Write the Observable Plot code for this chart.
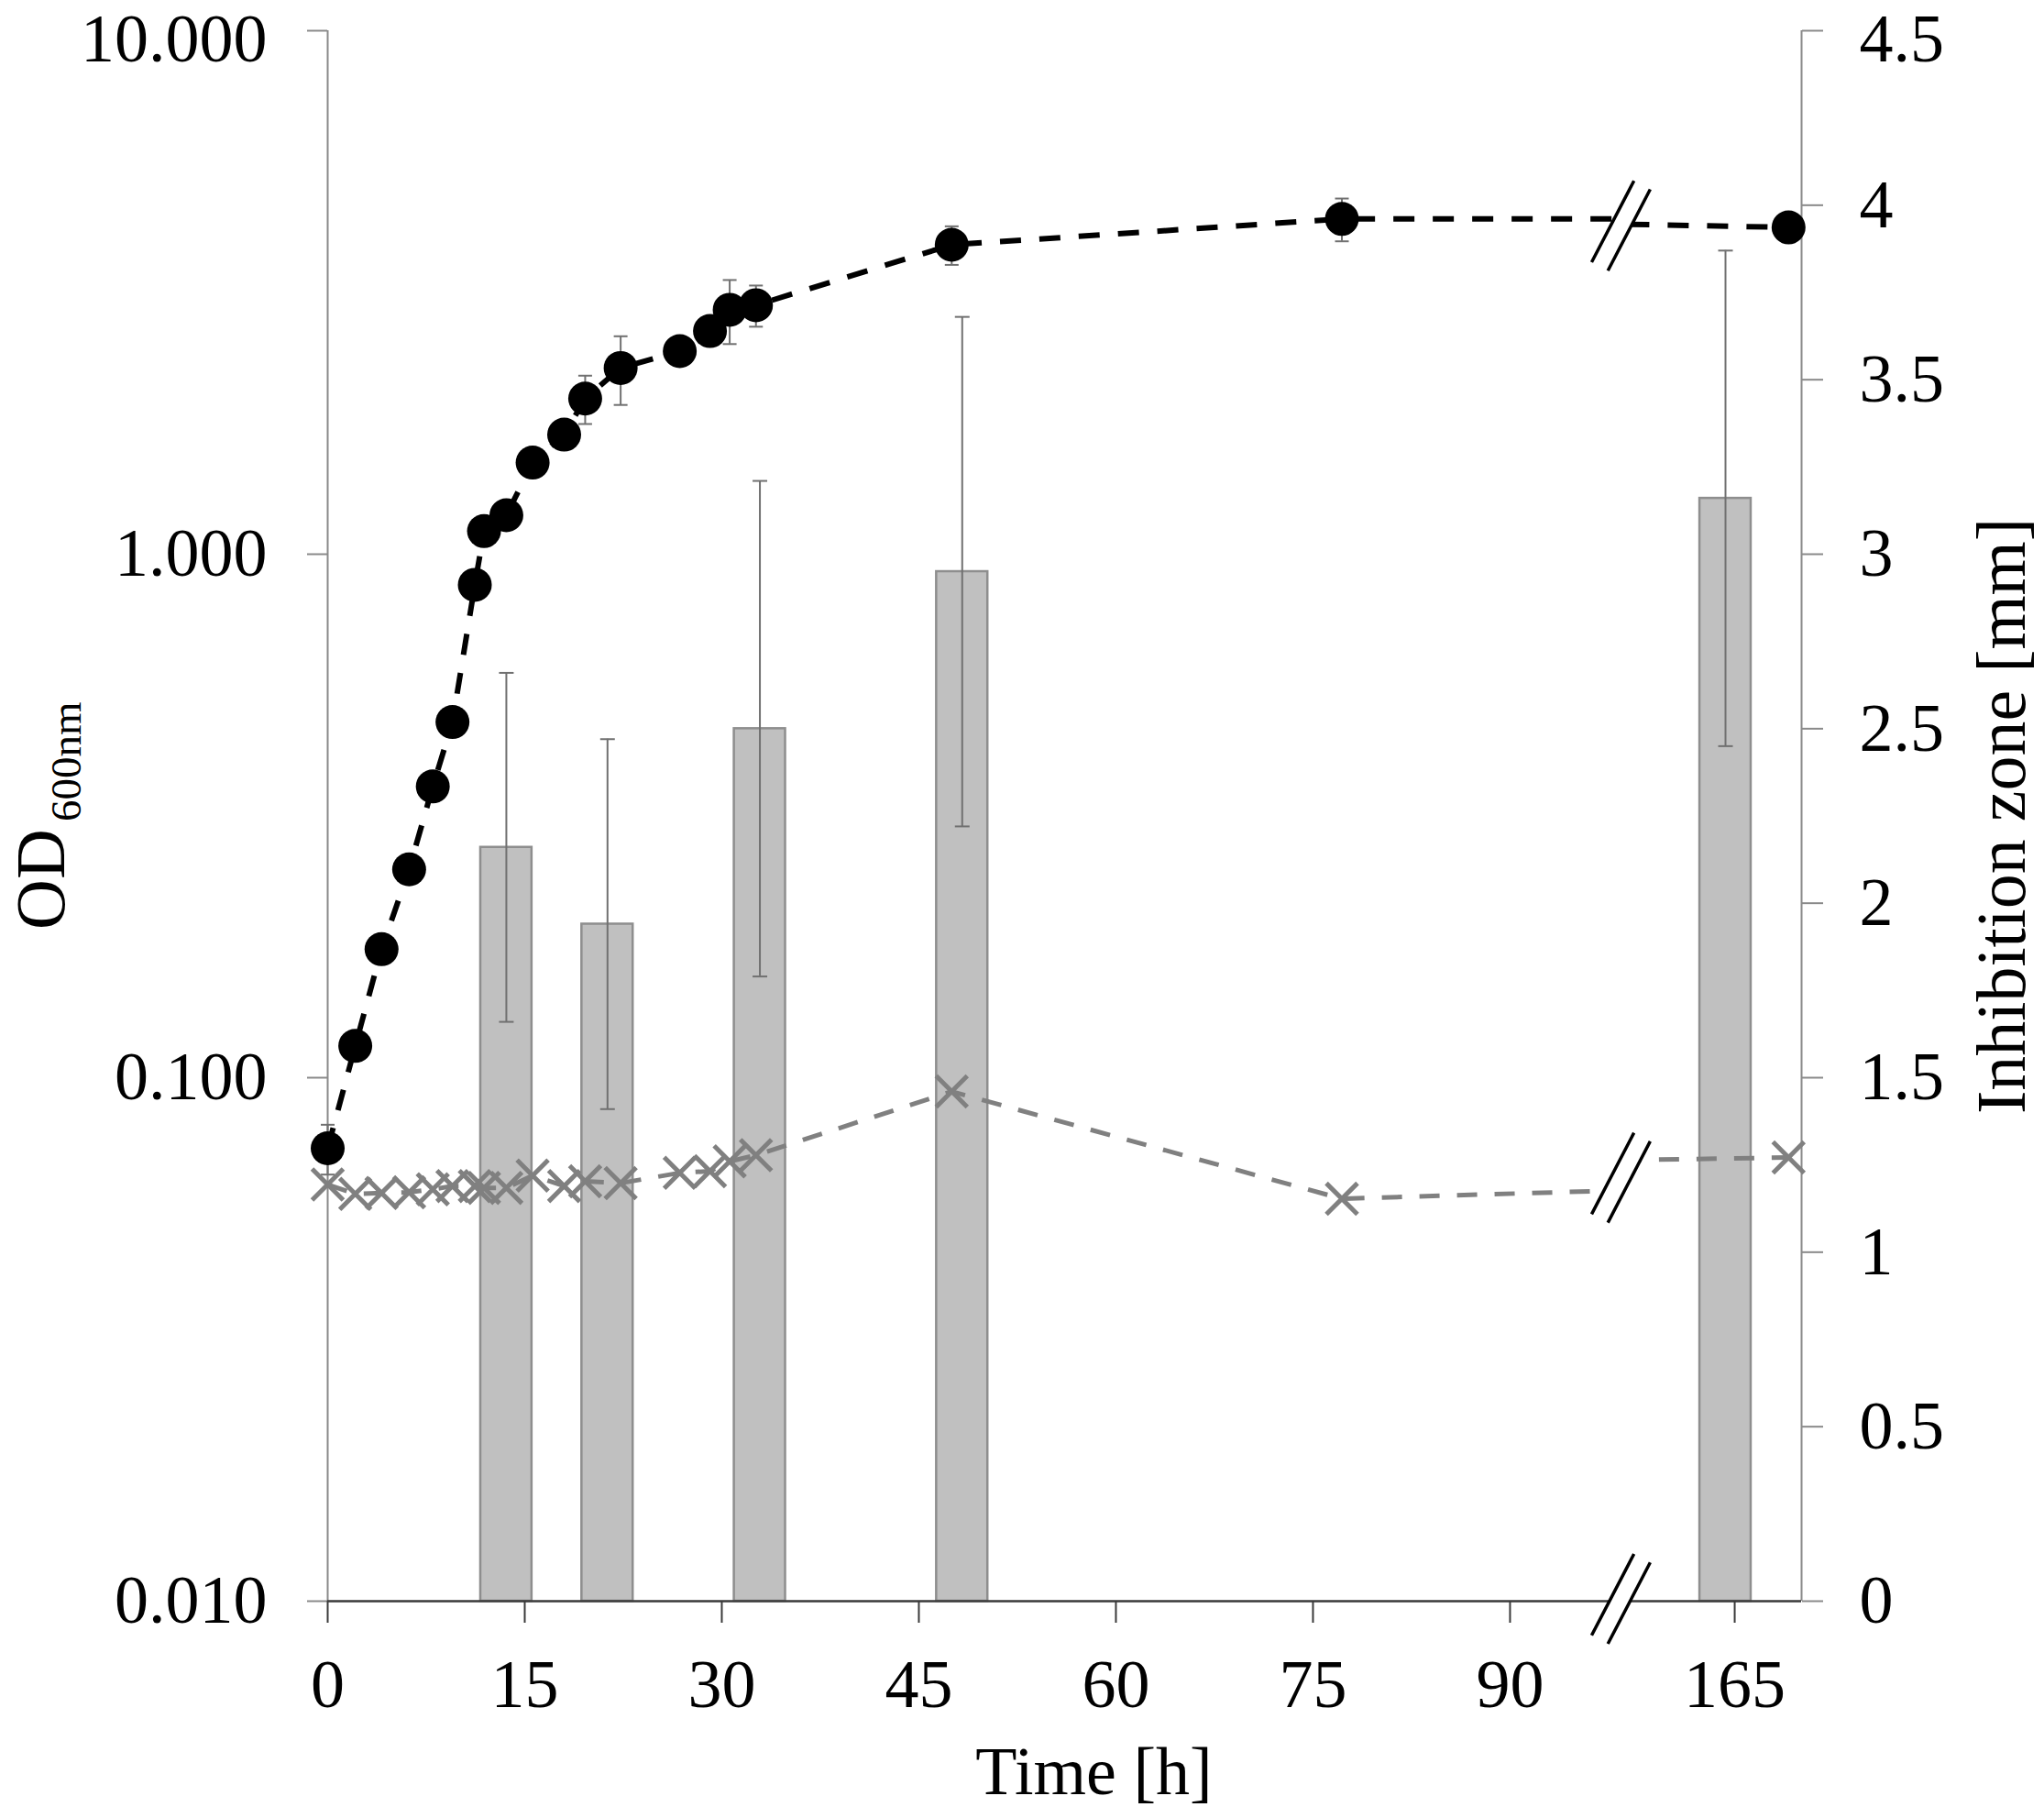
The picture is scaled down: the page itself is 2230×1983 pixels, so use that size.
<!DOCTYPE html>
<html>
<head>
<meta charset="utf-8">
<script src="https://cdn.jsdelivr.net/npm/d3@7"></script>
<script src="https://cdn.jsdelivr.net/npm/@observablehq/plot@0.6"></script>
<style>
  html, body { margin: 0; padding: 0; background: #fff; overflow: hidden; }
</style>
</head>
<body>
<div id="chart"></div>
<script>
// ---- data ----
const odHours  = [0, 2.1, 4.1, 6.2, 8.0, 9.5, 11.2, 11.9, 13.6, 15.6, 18.0, 19.6, 22.3, 26.8, 29.1, 30.6, 32.6, 47.5, 77.2, 169.1];
const odValues = [0.0733, 0.115, 0.176, 0.250, 0.360, 0.478, 0.874, 1.107, 1.187, 1.496, 1.692, 1.983, 2.268, 2.443, 2.669, 2.93, 2.99, 3.90, 4.37, 4.21];
const odErrors = [0.008, 0, 0, 0, 0, 0, 0, 0, 0, 0, 0, 0.21, 0.34, 0, 0, 0.41, 0.27, 0.33, 0.41, 0];

const crossValues = [0.0625, 0.0600, 0.0602, 0.0604, 0.0612, 0.0621, 0.0621, 0.0616, 0.0616, 0.0650, 0.0621, 0.0634, 0.0629, 0.0658, 0.0663, 0.0692, 0.0711, 0.0941, 0.0587, 0.0704];

const barHours  = [13.6, 21.3, 32.9, 48.3, 164.3];
const barMM     = [2.16, 1.94, 2.50, 2.95, 3.16];
const barErrMM  = [0.50, 0.53, 0.71, 0.73, 0.71];

// level of each dashed line where it meets the axis break (left side, right side)
const odBreakEdge    = [4.37, 4.27];
const crossBreakEdge = [0.0609, 0.0696];

const xTickHours  = [0, 15, 30, 45, 60, 75, 90, 165];
const xTickLabels = ["0", "15", "30", "45", "60", "75", "90", "165"];
const leftTicks       = [0.01, 0.1, 1, 10];
const leftTickLabels  = ["0.010", "0.100", "1.000", "10.000"];
const rightTicks      = [0, 0.5, 1, 1.5, 2, 2.5, 3, 3.5, 4, 4.5];
const rightTickLabels = ["0", "0.5", "1", "1.5", "2", "2.5", "3", "3.5", "4", "4.5"];

// ---- broken time axis ----
const BREAK_AFTER = 100;      // hours beyond this are shifted left
const BREAK_SHIFT = 57.9;     // hours removed by the break
const BREAK_POS   = 98.44;    // axis position of the "//" marks
const X_MAX       = 112.19;
const pos = h => (h > BREAK_AFTER ? h - BREAK_SHIFT : h);
const breakMarkY = [4.24, 0.0644, 0.0101];

// right axis (mm, linear 0..4.5) shares the frame with the log OD axis (0.01..10)
const mmToOD = mm => 0.01 * Math.pow(10, mm / 1.5);

const od = odHours.map((h, i) => ({x: pos(h), y: odValues[i], e: odErrors[i]}));
const crosses = odHours.map((h, i) => ({x: pos(h), y: crossValues[i]}));
const bars = barHours.map((h, i) => ({x: pos(h), mm: barMM[i], e: barErrMM[i]}));
const leftAxis = leftTicks.map((v, i) => ({y: v, label: leftTickLabels[i]}));
const rightAxis = rightTicks.map((mm, i) => ({y: mmToOD(mm), label: rightTickLabels[i]}));
const atTop = d => d.y >= 9.99;

const odLine = [...od.map(d => ({x: d.x, y: d.y})),
  {x: BREAK_POS - 0.3, y: odBreakEdge[0]}, {x: BREAK_POS + 0.3, y: odBreakEdge[1]}]
  .sort((a, b) => a.x - b.x);
const crossLine = [...crosses,
  {x: BREAK_POS - 0.3, y: crossBreakEdge[0]}, {x: BREAK_POS + 0.3, y: crossBreakEdge[1]}]
  .sort((a, b) => a.x - b.x);

const odErr = od.filter(d => d.e > 0);
const odCaps = odErr.flatMap(d => [{x: d.x, y: d.y - d.e}, {x: d.x, y: d.y + d.e}]);
const barCaps = bars.flatMap(d => [{x: d.x, y: mmToOD(d.mm - d.e)}, {x: d.x, y: mmToOD(d.mm + d.e)}]);
const breaks = breakMarkY.map(y => ({x: BREAK_POS, y}));

const lineShape = {draw(ctx, l) { ctx.moveTo(0, 0); ctx.lineTo(0, -l); }};
const slashShape = {draw(ctx, l) {
  ctx.moveTo(-10, 0); ctx.lineTo(-10, -l);
  ctx.moveTo(10, 0); ctx.lineTo(10, -l);
}};

const BAR_HALF = 1.95;
const FONT = "'Liberation Serif', 'Times New Roman', serif";
const GRAY_AXIS = "#8a8a8a";
const ERR = "#707070";
const xTickPos = xTickHours.map(pos);
const TICK_FONT = 74;

const chart = Plot.plot({
  width: 2230,
  height: 1983,
  marginLeft: 357,
  marginRight: 265,
  marginTop: 33,
  marginBottom: 237,
  x: {domain: [0, X_MAX], axis: null},
  y: {type: "log", domain: [0.01, 10], axis: null},
  style: {fontFamily: FONT, fontSize: "74px", color: "black", background: "white"},
  marks: [
    // bars (right axis)
    Plot.rect(bars, {x1: d => d.x - BAR_HALF, x2: d => d.x + BAR_HALF, y1: 0.01, y2: d => mmToOD(d.mm),
      fill: "#c0c0c0", stroke: "#8e8e8e", strokeWidth: 2.5}),
    Plot.ruleX(bars, {x: "x", y1: d => mmToOD(d.mm - d.e), y2: d => mmToOD(d.mm + d.e), stroke: ERR, strokeWidth: 2}),
    Plot.vector(barCaps, {x: "x", y: "y", length: 16, rotate: 90, anchor: "middle", shape: lineShape,
      stroke: ERR, strokeWidth: 2, strokeLinecap: "butt"}),

    // frame lines
    Plot.ruleX([0], {stroke: GRAY_AXIS, strokeWidth: 2}),
    Plot.ruleX([X_MAX], {stroke: GRAY_AXIS, strokeWidth: 2}),
    Plot.ruleY([0.01], {stroke: "#3a3a3a", strokeWidth: 2.5}),

    // dashed lines
    Plot.line(crossLine, {x: "x", y: "y", stroke: "#808080", strokeWidth: 5, strokeDasharray: "22,19", strokeLinecap: "butt"}),
    Plot.line(odLine, {x: "x", y: "y", stroke: "black", strokeWidth: 6, strokeDasharray: "23,20", strokeLinecap: "butt"}),

    // axis break: white gap then "//"
    Plot.vector(breaks, {x: "x", y: "y", length: 100, rotate: 27.5, anchor: "middle", shape: lineShape,
      stroke: "white", strokeWidth: 18, strokeLinecap: "butt"}),
    Plot.vector(breaks, {x: "x", y: "y", length: 100, rotate: 27.5, anchor: "middle", shape: slashShape,
      stroke: "black", strokeWidth: 3.5, strokeLinecap: "butt"}),

    // OD error bars
    Plot.ruleX(odErr, {x: "x", y1: d => d.y - d.e, y2: d => d.y + d.e, stroke: ERR, strokeWidth: 2}),
    Plot.vector(odCaps, {x: "x", y: "y", length: 15, rotate: 90, anchor: "middle", shape: lineShape,
      stroke: ERR, strokeWidth: 2, strokeLinecap: "butt"}),

    // markers
    Plot.dot(crosses, {x: "x", y: "y", symbol: "times", r: 15.5, stroke: "#808080", strokeWidth: 5}),
    Plot.dot(od, {x: "x", y: "y", r: 18.5, fill: "black"}),

    // left axis: tick lines + labels
    Plot.axisY({anchor: "left", ticks: leftTicks, tickSize: 22, stroke: GRAY_AXIS, strokeWidth: 2,
      fill: "none", label: null}),
    Plot.text(leftAxis.filter(d => !atTop(d)), {x: 0, y: "y", text: "label", dx: -66, textAnchor: "end",
      lineAnchor: "middle", fontSize: TICK_FONT, fill: "black"}),
    Plot.text(leftAxis.filter(atTop), {x: 0, y: "y", text: "label", dx: -66, dy: 10, textAnchor: "end",
      lineAnchor: "middle", fontSize: TICK_FONT, fill: "black"}),
    // right axis: tick lines + labels
    Plot.axisY({anchor: "right", ticks: rightAxis.map(d => d.y), tickSize: 23, stroke: GRAY_AXIS, strokeWidth: 2,
      fill: "none", label: null}),
    Plot.text(rightAxis.filter(d => !atTop(d)), {x: X_MAX, y: "y", text: "label", dx: 63, textAnchor: "start",
      lineAnchor: "middle", fontSize: TICK_FONT, fill: "black"}),
    Plot.text(rightAxis.filter(atTop), {x: X_MAX, y: "y", text: "label", dx: 63, dy: 10, textAnchor: "start",
      lineAnchor: "middle", fontSize: TICK_FONT, fill: "black"}),
    // x axis
    Plot.axisX({ticks: xTickPos, tickFormat: p => xTickLabels[xTickPos.indexOf(p)],
      tickSize: 24, tickPadding: 39, stroke: "#3a3a3a", strokeWidth: 2, fill: "black", fontSize: TICK_FONT, label: null}),

    // axis titles
    Plot.text(["OD"], {text: d => d, frameAnchor: "left", dx: -288, dy: 124, rotate: -90,
      textAnchor: "start", lineAnchor: "bottom", fontSize: 76, fill: "black"}),
    Plot.text(["600nm"], {text: d => d, frameAnchor: "left", dx: -270, dy: 6, rotate: -90,
      textAnchor: "start", lineAnchor: "bottom", fontSize: 47, fill: "black"}),
    Plot.text(["Inhibition zone [mm]"], {text: d => d, frameAnchor: "right", dx: 243, rotate: -90,
      textAnchor: "middle", lineAnchor: "bottom", fontSize: 76, fill: "black"}),
    Plot.text(["Time [h]"], {text: d => d, frameAnchor: "bottom", dx: 32, dy: 210,
      textAnchor: "middle", lineAnchor: "bottom", fontSize: 74, fill: "black"})
  ]
});

document.getElementById("chart").appendChild(chart);
</script>
</body>
</html>
